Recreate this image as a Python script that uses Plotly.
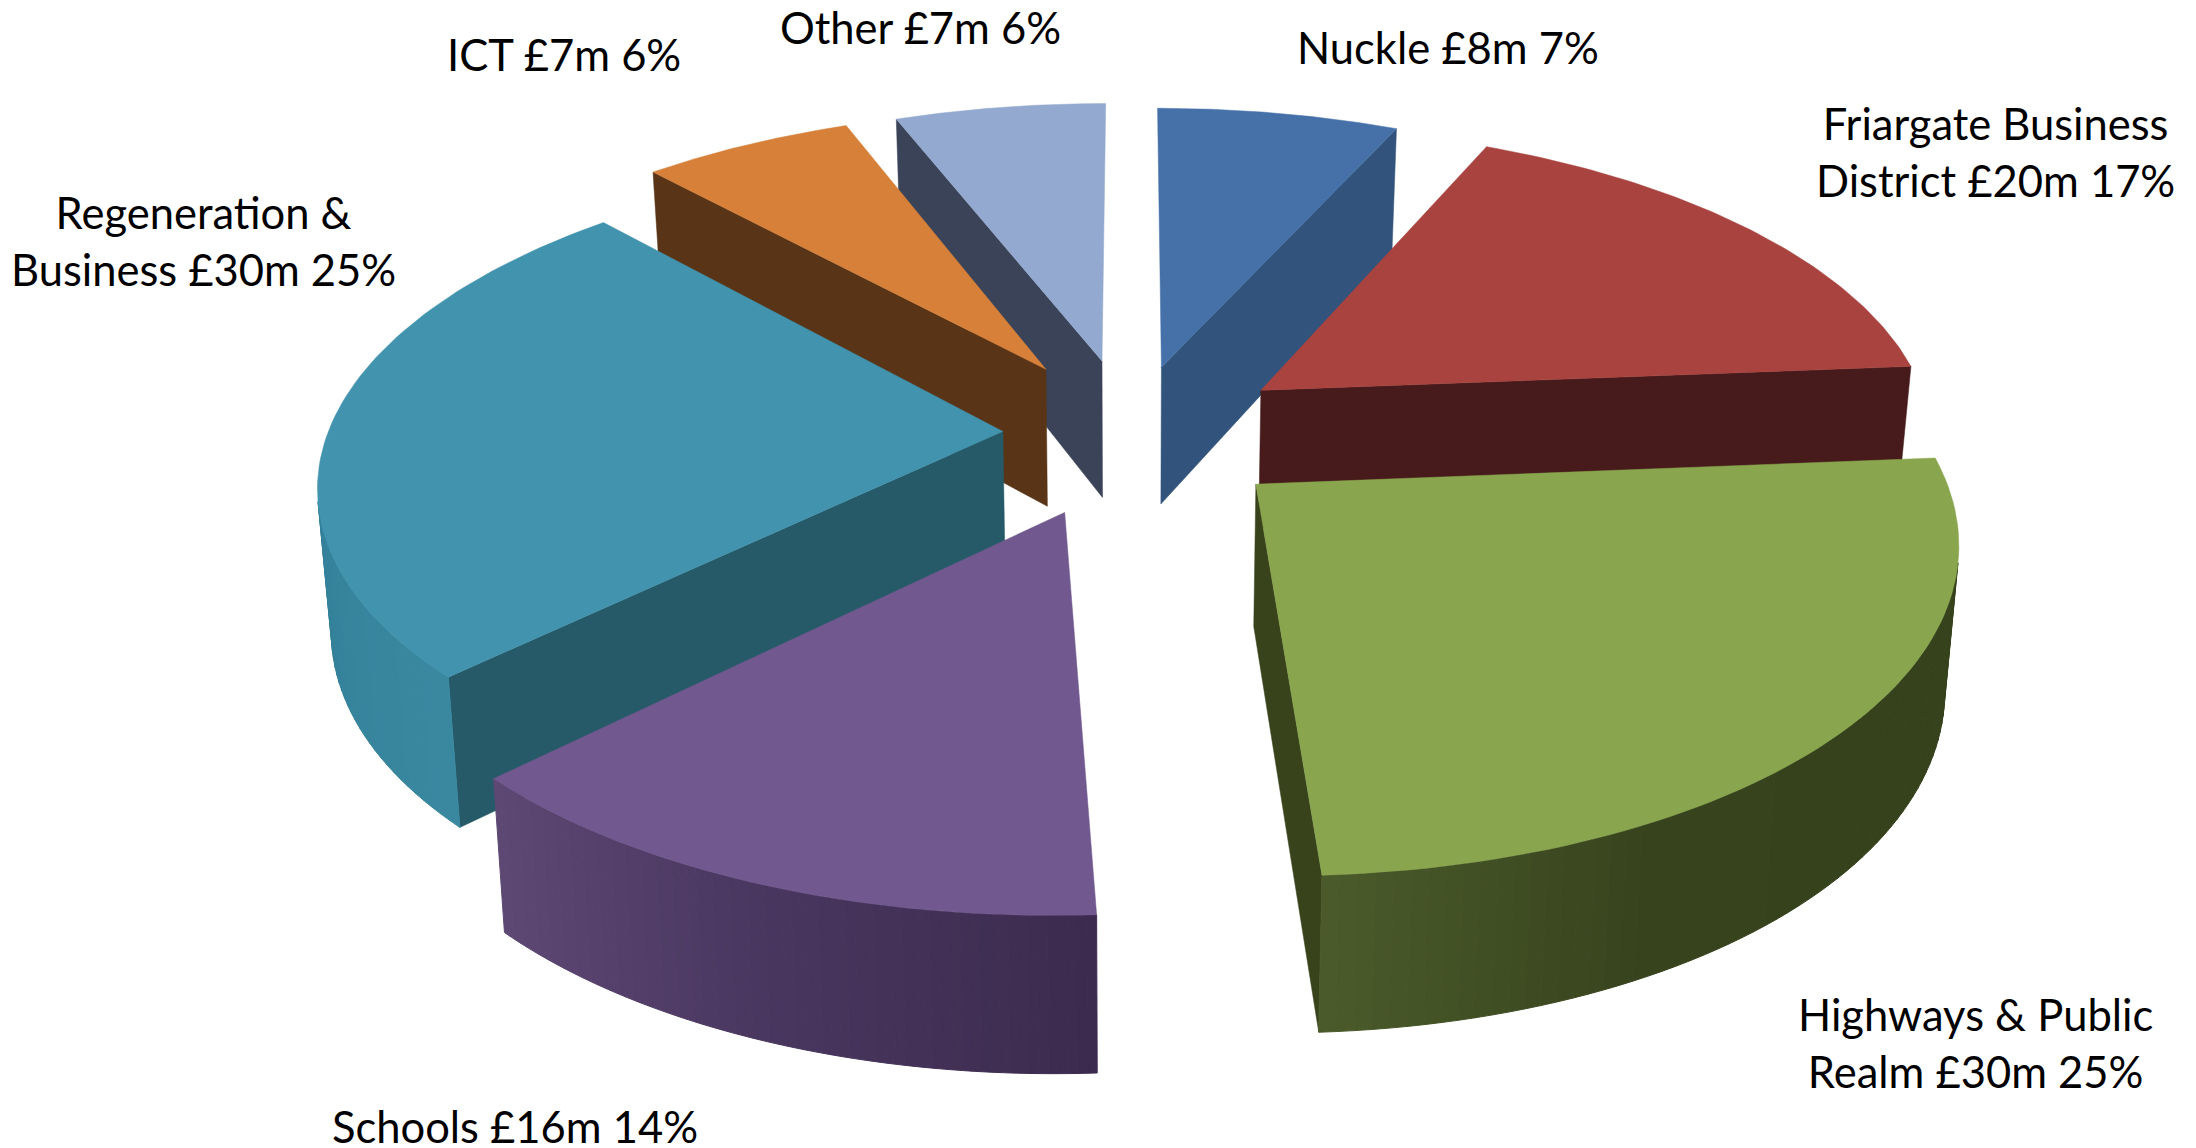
import math
import plotly.graph_objects as go

# Capital programme by scheme, clockwise from twelve o'clock
names = ["Nuckle", "Friargate Business<br>District", "Highways & Public<br>Realm", "Schools",
         "Regeneration &<br>Business", "ICT", "Other"]
values_m = [8, 20, 30, 16, 30, 7, 7]
percents = [7, 17, 25, 14, 25, 6, 6]

top_colors = ["#4571a8", "#a8433f", "#89a54e", "#71588f", "#4193ae", "#d6803a", "#93a9cf"]
side_colors = ["#32547c", "#471b1b", "#38431c", "#4a3760", "#275a68", "#593416", "#3a4357"]
# Outer wall shading, sampled along each visible arc from its clockwise-first end
wall_ramps = [
    ["#32547c", "#32547c"],
    ["#471b1b", "#471b1b"],
    ["#36421c", "#36421c", "#37431d", "#4a5a2a"],
    ["#3c2b4e", "#4a3760", "#5d4874"],
    ["#3a88a0", "#33809a"],
    ["#593416", "#593416"],
    ["#3a4357", "#3a4357"],
]
pulls = [0.22, 0.24, 0.24, 0.26, 0.19, 0.245, 0.24]
draw_order = [0, 6, 5, 1, 4, 3, 2]

# Perspective camera
CX, CY = 1131, 433
SCALE_X, SCALE_Y = 675, 316
TILT = 0.15
BOTTOM_SHRINK = 0.983
WALL, WALL_SLOPE = 140, 14.7
EDGE_ON = 6000  # radial faces thinner than this are not worth drawing


def project(x, y, bottom=False):
    s = 1 / (1 - TILT * y)
    if bottom:
        return (CX + SCALE_X * x * s * BOTTOM_SHRINK,
                CY + SCALE_Y * y * s + WALL + WALL_SLOPE * y)
    return CX + SCALE_X * x * s, CY + SCALE_Y * y * s


def area(pts):
    total = 0
    for (a, b), (c, d) in zip(pts, pts[1:] + pts[:1]):
        total += a * d - c * b
    return total


def hex_mix(ramp, t):
    pos = min(max(t, 0), 0.9999) * (len(ramp) - 1)
    i = int(pos)
    f = pos - i
    a = [int(ramp[i][k:k + 2], 16) for k in (1, 3, 5)]
    b = [int(ramp[i + 1][k:k + 2], 16) for k in (1, 3, 5)]
    return "rgb(%d,%d,%d)" % tuple(round(p + (q - p) * f) for p, q in zip(a, b))


fig = go.Figure()


def poly(pts, color, seam=False):
    xs = [p[0] for p in pts] + [pts[0][0]]
    ys = [p[1] for p in pts] + [pts[0][1]]
    fig.add_trace(go.Scatter(x=xs, y=ys, mode="lines", fill="toself", fillcolor=color,
                             line=dict(color=color, width=1 if seam else 0.5),
                             hoverinfo="skip", showlegend=False))


total = sum(values_m)
spans = []
acc = 0.0
for v in values_m:
    spans.append((acc * 360 / total, (acc + v) * 360 / total))
    acc += v

for i in draw_order:
    a0, a1 = map(math.radians, spans[i])
    mid = (a0 + a1) / 2
    ox, oy = pulls[i] * math.sin(mid), -pulls[i] * math.cos(mid)

    def world(t):
        return ox + math.sin(t), oy - math.cos(t)

    # Radial faces
    for t, sign in ((a0, -1), (a1, 1)):
        wx, wy = world(t)
        quad = [project(ox, oy), project(wx, wy), project(wx, wy, True), project(ox, oy, True)]
        if area(quad) * sign > EDGE_ON:
            poly(quad, side_colors[i])

    # Outer wall, one strip per step so the shading can vary along the arc
    steps = 72
    ts = [a0 + (a1 - a0) * k / steps for k in range(steps + 1)]
    strips = []
    for p, q in zip(ts, ts[1:]):
        quad = [project(*world(p)), project(*world(q)),
                project(*world(q), True), project(*world(p), True)]
        if area(quad) < 0:
            strips.append(quad)
    for k, quad in enumerate(strips):
        poly(quad, hex_mix(wall_ramps[i], k / max(len(strips) - 1, 1)), seam=True)

    # Top face
    outline = [project(ox, oy)] + [project(*world(t)) for t in ts]
    poly(outline, top_colors[i])

label_spots = [(1448, 47), (1995, 151), (1975, 1042), (515, 1126), (203, 240), (564, 54), (920, 27)]
for name, v, pct, (lx, ly) in zip(names, values_m, percents, label_spots):
    fig.add_annotation(x=lx, y=ly, text=f"{name} £{v}m {pct}%", showarrow=False,
                       font=dict(family="Lato", size=43.5, color="#000000"), align="center")

fig.update_xaxes(range=[0, 2196], visible=False)
fig.update_yaxes(range=[1148, 0], visible=False)
fig.update_layout(width=2196, height=1148, margin=dict(l=0, r=0, t=0, b=0),
                  paper_bgcolor="#ffffff", plot_bgcolor="#ffffff", showlegend=False)
fig.write_html("out.html", config=dict(displayModeBar=False))
